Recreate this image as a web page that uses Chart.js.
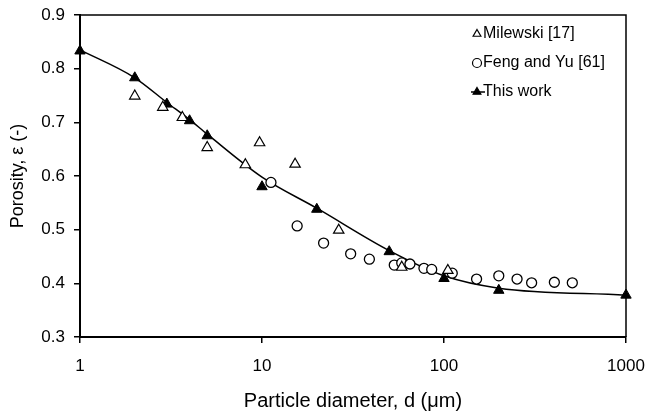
<!DOCTYPE html>
<html>
<head>
<meta charset="utf-8">
<script src="https://cdn.jsdelivr.net/npm/chart.js@4.4.1/dist/chart.umd.min.js"></script>
<style>
  body { margin: 0; background: #fff; }
  #wrap { width: 649px; height: 417px; }
</style>
</head>
<body>
<div id="wrap"><canvas id="porosityChart" width="649" height="417"></canvas></div>
<script>
// porosity vs particle diameter (um)
const milewskiD   = [2, 2.85, 3.65, 5, 8.1, 9.7, 15.2, 26.4, 58.6, 105];
const milewskiEps = [0.749, 0.728, 0.709, 0.653, 0.621, 0.662, 0.622, 0.499, 0.430, 0.424];

const fengD   = [11.2, 15.6, 21.8, 30.7, 38.9, 53.3, 58.6, 65, 77.6, 85.6, 111, 151, 200, 252, 303, 404, 507];
const fengEps = [0.588, 0.507, 0.475, 0.455, 0.445, 0.434, 0.438, 0.436, 0.428, 0.426, 0.419, 0.408, 0.414, 0.408, 0.401, 0.402, 0.401];

// computed points of this work
const workD   = [1, 2, 3, 4, 5, 10, 20, 50, 100, 200, 1000];
const workEps = [0.833, 0.783, 0.734, 0.703, 0.675, 0.580, 0.538, 0.459, 0.409, 0.387, 0.378];

// smooth model curve of this work
const curveD   = [1, 2, 3, 4, 5, 10, 20, 50, 100, 200, 1000];
const curveEps = [0.835, 0.783, 0.737, 0.705, 0.678, 0.598, 0.540, 0.461, 0.414, 0.391, 0.378];

const xTicks = [1, 10, 100, 1000];
const yTicks = [0.3, 0.4, 0.5, 0.6, 0.7, 0.8, 0.9];

const FONT = '"Liberation Sans", Arial, sans-serif';

function toPoints(xs, ys) {
  return xs.map((x, i) => ({ x: x, y: ys[i] }));
}

// keep the plot box fixed: labels may hang over the edges
function noOverhang(s) {
  s.paddingLeft = s.paddingRight = s.paddingTop = s.paddingBottom = 0;
}

// box around the plot area (top + right sides)
const frame = {
  id: 'frame',
  beforeDatasetsDraw(chart) {
    const { ctx, chartArea: a } = chart;
    ctx.save();
    ctx.strokeStyle = '#000';
    ctx.lineWidth = 1.5;
    ctx.beginPath();
    ctx.moveTo(a.left, a.top);
    ctx.lineTo(a.right, a.top);
    ctx.lineTo(a.right, a.bottom);
    ctx.stroke();
    ctx.restore();
  }
};

// legend sitting inside the plot, top right
const sideLegend = {
  id: 'sideLegend',
  afterDraw(chart) {
    const { ctx, chartArea } = chart;
    const x0 = chartArea.right - 149;
    let y = chartArea.top + 19;
    ctx.save();
    ctx.font = '16px ' + FONT;
    ctx.textBaseline = 'middle';
    chart.data.datasets.forEach(ds => {
      if (!ds.label) return;
      ctx.strokeStyle = '#000';
      if (ds.legendLine) {
        ctx.lineWidth = 1.5;
        ctx.beginPath();
        ctx.moveTo(x0 - 6, y);
        ctx.lineTo(x0 + 8, y);
        ctx.stroke();
      }
      ctx.lineWidth = 1.2;
      ctx.fillStyle = ds.pointBackgroundColor;
      Chart.helpers.drawPoint(ctx, { pointStyle: ds.pointStyle, radius: 4.5, borderWidth: 1.2, rotation: 0 }, x0, y);
      ctx.fillStyle = '#000';
      ctx.fillText(ds.label, x0 + 6, y);
      y += 29;
    });
    ctx.restore();
  }
};

const ctx = document.getElementById('porosityChart').getContext('2d');
new Chart(ctx, {
  type: 'scatter',
  data: {
    datasets: [
      {
        label: 'Milewski [17]',
        data: toPoints(milewskiD, milewskiEps),
        showLine: false,
        pointStyle: 'triangle',
        pointRadius: 6,
        pointBorderWidth: 1.2,
        pointBorderColor: '#000',
        pointBackgroundColor: '#fff',
        clip: false
      },
      {
        label: 'Feng and Yu [61]',
        data: toPoints(fengD, fengEps),
        showLine: false,
        pointStyle: 'circle',
        pointRadius: 5,
        pointBorderWidth: 1.3,
        pointBorderColor: '#000',
        pointBackgroundColor: '#fff',
        clip: false
      },
      {
        data: toPoints(curveD, curveEps),
        showLine: true,
        borderColor: '#000',
        borderWidth: 1.5,
        cubicInterpolationMode: 'monotone',
        pointRadius: 0,
        clip: false
      },
      {
        label: 'This work',
        legendLine: true,
        data: toPoints(workD, workEps),
        showLine: false,
        pointStyle: 'triangle',
        pointRadius: 6,
        pointBorderWidth: 1,
        pointBorderColor: '#000',
        pointBackgroundColor: '#000',
        clip: false
      }
    ]
  },
  options: {
    responsive: false,
    animation: false,
    events: [],
    layout: { padding: { top: 15, right: 23, left: 0, bottom: 0 } },
    plugins: {
      legend: { display: false },
      tooltip: { enabled: false }
    },
    scales: {
      x: {
        type: 'logarithmic',
        position: 'bottom',
        min: 1,
        max: 1000,
        border: { color: '#000', width: 2 },
        grid: { drawOnChartArea: false, drawTicks: true, tickLength: 6, color: '#000', lineWidth: 1.5 },
        ticks: {
          color: '#000',
          font: { family: FONT, size: 17 },
          padding: 13,
          autoSkip: false,
          maxRotation: 0,
          callback: v => String(v)
        },
        title: {
          display: true,
          text: 'Particle diameter, d (μm)',
          color: '#000',
          font: { family: FONT, size: 20 },
          padding: { top: 0, bottom: 4 }
        },
        afterBuildTicks: s => { s.ticks = xTicks.map(v => ({ value: v })); },
        afterFit: s => { s.height = 80; noOverhang(s); }
      },
      y: {
        type: 'linear',
        min: 0.3,
        max: 0.9,
        border: { color: '#000', width: 2 },
        grid: { drawOnChartArea: false, drawTicks: true, tickLength: 6, color: '#000', lineWidth: 1.5 },
        ticks: {
          color: '#000',
          font: { family: FONT, size: 17 },
          padding: 9,
          callback: v => v.toFixed(1)
        },
        title: {
          display: true,
          text: 'Porosity, ε (-)',
          color: '#000',
          font: { family: FONT, size: 18 },
          padding: { top: 7, bottom: 0 }
        },
        afterBuildTicks: s => { s.ticks = yTicks.map(v => ({ value: v })); },
        afterFit: s => { s.width = 80; noOverhang(s); }
      }
    }
  },
  plugins: [frame, sideLegend]
});
</script>
</body>
</html>
